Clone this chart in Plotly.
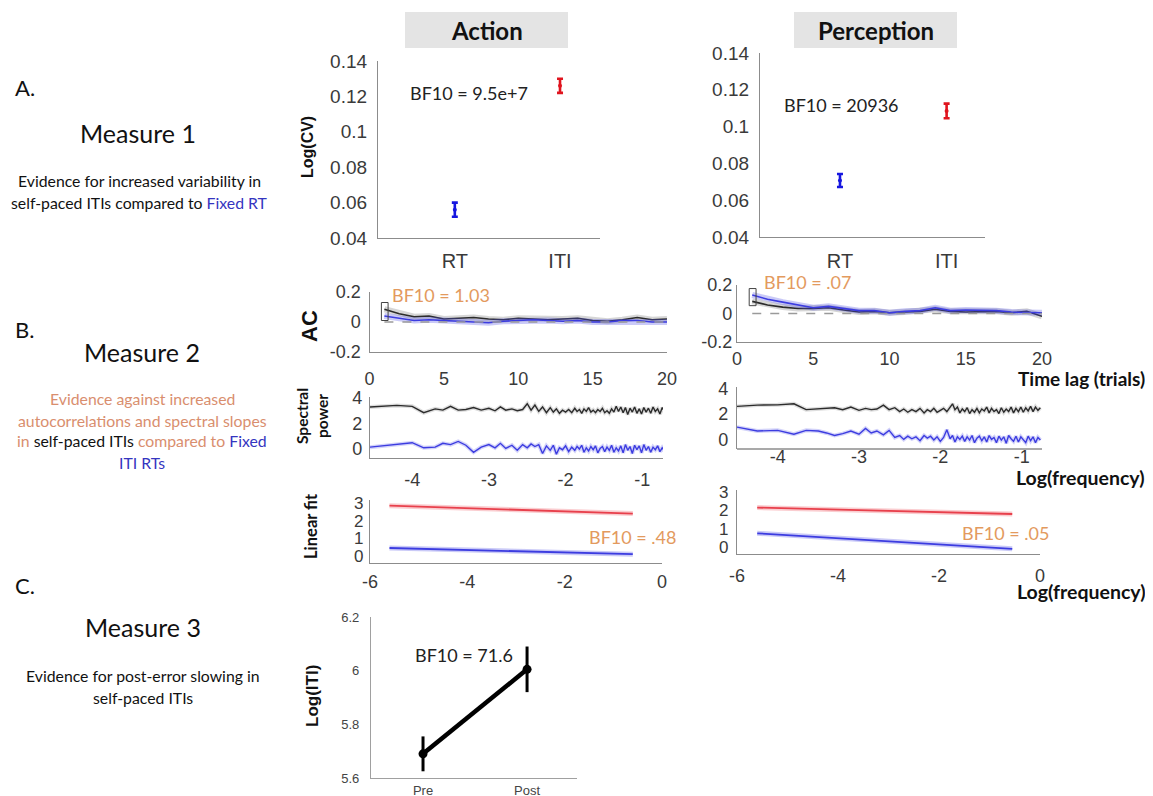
import plotly.graph_objects as go

# target picture size and the page offset (default body margin of the html page)
W, H = 1153, 796
OX, OY = 8, 8
FW, FH = W - OX, H - OY

# ---------------- data ----------------
groups = ["RT", "ITI"]
action_cv_mean = [0.056, 0.126]
action_cv_err = [0.004, 0.004]
perception_cv_mean = [0.0707, 0.1085]
perception_cv_err = [0.0035, 0.004]

lags = [1, 2, 3, 4, 5, 6, 7, 8, 9, 10, 11, 12, 13, 14, 15, 16, 17, 18, 19, 20]
action_ac_iti = [0.085, 0.055, 0.035, 0.04, 0.02, 0.025, 0.03, 0.02, 0.015, 0.025,
                 0.02, 0.015, 0.02, 0.025, 0.01, 0.005, 0.015, 0.03, 0.015, 0.02]
action_ac_rt = [0.04, 0.025, 0.01, 0.015, 0.01, 0.005, 0.005, -0.005, 0.005, 0.01,
                0.015, 0.01, 0.005, 0.01, 0.0, 0.0, 0.01, 0.01, 0.0, 0.0]
perception_ac_iti = [0.085, 0.06, 0.045, 0.035, 0.035, 0.04, 0.025, 0.01, 0.015, 0.005,
                     0.01, 0.015, 0.03, 0.015, 0.01, 0.015, 0.015, 0.005, 0.015, -0.02]
perception_ac_rt = [0.13, 0.1, 0.08, 0.06, 0.04, 0.05, 0.035, 0.02, 0.02, 0.005,
                    0.015, 0.02, 0.04, 0.02, 0.025, 0.025, 0.02, 0.01, 0.01, 0.005]

action_logfreq = [-4.55, -4.2, -4.0, -3.85, -3.7, -3.6, -3.5, -3.4, -3.3, -3.2, -3.1, -3.0,
                  -2.92, -2.85, -2.78, -2.7, -2.63, -2.56, -2.5, -2.45, -2.4, -2.35, -2.3, -2.25,
                  -2.2, -2.16, -2.12, -2.08, -2.04, -2.0, -1.96, -1.92, -1.88, -1.85, -1.82, -1.79,
                  -1.76, -1.73, -1.7, -1.67, -1.64, -1.61, -1.58, -1.55, -1.52, -1.49, -1.46, -1.43,
                  -1.4, -1.37, -1.34, -1.31, -1.28, -1.25, -1.22, -1.19, -1.16, -1.13, -1.1, -1.07,
                  -1.04, -1.01, -0.98, -0.95, -0.92, -0.89, -0.86, -0.83, -0.8, -0.77, -0.74, -0.71]
action_power_iti = [3.30, 3.42, 3.35, 2.85, 3.15, 3.05, 3.35, 3.05, 3.10, 3.25, 3.05, 3.20,
                    3.00, 3.30, 3.05, 3.15, 3.00, 3.10, 3.55, 3.05, 3.45, 2.95, 3.30, 2.85,
                    3.25, 2.90, 3.15, 2.80, 3.05, 2.90, 3.10, 2.85, 3.20, 2.95, 3.10, 2.80,
                    3.15, 2.95, 3.25, 2.90, 3.05, 2.85, 3.10, 2.95, 3.20, 2.85, 3.00, 2.80,
                    3.15, 2.90, 3.35, 2.95, 3.30, 2.85, 3.25, 2.70, 3.20, 2.90, 3.30, 2.80,
                    3.15, 2.75, 3.25, 2.90, 3.20, 2.80, 3.30, 2.95, 3.15, 2.75, 3.25, 2.95]
action_power_rt = [0.15, 0.40, 0.50, 0.10, 0.15, 0.45, 0.35, 0.60, 0.30, -0.25, 0.15, 0.35,
                   0.10, 0.45, 0.05, 0.30, -0.10, 0.35, 0.10, 0.40, 0.20, 0.35, -0.35, 0.25,
                   -0.10, 0.30, -0.40, 0.10, -0.05, 0.25, -0.20, 0.15, -0.10, 0.20, 0.00, 0.30,
                   -0.25, 0.10, -0.15, 0.20, -0.05, 0.25, -0.30, 0.05, 0.20, -0.20, 0.15, -0.10,
                   0.30, -0.25, 0.10, -0.15, 0.25, -0.30, 0.35, -0.10, 0.20, -0.35, 0.30, -0.05,
                   0.25, -0.30, 0.35, -0.10, 0.20, -0.25, 0.15, -0.05, 0.25, -0.20, 0.10, -0.15]

perception_logfreq = [-4.5, -4.25, -4.0, -3.8, -3.65, -3.5, -3.4, -3.3, -3.2, -3.1, -3.0,
                      -2.92, -2.85, -2.78, -2.7, -2.63, -2.56, -2.5, -2.45, -2.4, -2.35, -2.3,
                      -2.25, -2.2, -2.16, -2.12, -2.08, -2.04, -2.0, -1.96, -1.92, -1.88, -1.85,
                      -1.82, -1.79, -1.76, -1.73, -1.7, -1.67, -1.64, -1.61, -1.58, -1.55, -1.52,
                      -1.49, -1.46, -1.43, -1.4, -1.37, -1.34, -1.31, -1.28, -1.25, -1.22, -1.19,
                      -1.16, -1.13, -1.1, -1.07, -1.04, -1.01, -0.98, -0.95, -0.92, -0.89, -0.86,
                      -0.83, -0.8, -0.77]
perception_power_iti = [2.60, 2.70, 2.72, 2.80, 2.35, 2.40, 2.45, 2.50, 2.35, 2.55, 2.30,
                        2.45, 2.35, 2.40, 2.70, 2.35, 2.50, 2.20, 2.40, 2.15, 2.35, 2.20,
                        2.45, 2.10, 2.35, 2.20, 2.45, 2.15, 2.30, 2.45, 2.20, 2.50, 2.80,
                        2.35, 2.55, 2.10, 2.40, 2.20, 2.50, 2.05, 2.35, 2.15, 2.45, 2.10,
                        2.40, 2.25, 2.55, 2.10, 2.45, 2.20, 2.35, 2.05, 2.50, 2.15, 2.40,
                        2.20, 2.55, 2.10, 2.45, 2.20, 2.55, 2.15, 2.50, 2.25, 2.60, 2.20,
                        2.55, 2.30, 2.50]
perception_power_rt = [1.00, 0.70, 0.75, 0.45, 0.75, 0.70, 0.55, 0.35, 0.50, 0.70, 0.45,
                       0.90, 0.55, 0.70, 0.40, 0.75, 0.20, 0.35, 0.05, 0.30, 0.10, 0.25,
                       -0.05, 0.35, 0.15, 0.30, 0.00, 0.25, -0.10, 0.20, 0.80, 0.10, 0.35,
                       -0.15, 0.25, 0.05, 0.30, -0.10, 0.25, 0.00, 0.35, -0.20, 0.15, 0.30,
                       -0.05, 0.25, -0.15, 0.35, 0.05, 0.20, -0.20, 0.30, 0.00, 0.25, -0.25,
                       0.35, 0.10, -0.10, 0.30, -0.15, 0.25, 0.05, -0.20, 0.30, -0.05, 0.25,
                       -0.20, 0.20, 0.00]

action_fit_x = [-5.6, -0.6]
action_fit_iti = [2.85, 2.4]
action_fit_rt = [0.45, 0.1]
perception_fit_x = [-5.6, -0.55]
perception_fit_iti = [2.15, 1.8]
perception_fit_rt = [0.75, -0.1]

pe_conditions = ["Pre", "Post"]
pe_log_iti = [5.69, 6.005]
pe_err = [0.065, 0.085]

# ---------------- styles ----------------
ARIAL = "Liberation Sans, Arial, sans-serif"
CAL = "Lato, Open Sans, sans-serif"
TICK = "#3a3a3a"
AXL = "#8c8c8c"
BLUE_PT = "#1616e0"
RED_PT = "#e0141e"
BLUE_L = "#3c3ce0"
BLACK_L = "#2b2b2b"
RED_L = "#e8404c"
ORANGE_BF = "#E39A5E"
ORANGE_TXT = "#D98E6E"
BLUE_TXT = "#3535C0"


def PX(x):
    return (x - OX) / FW


def PY(y):
    return 1 - (y - OY) / FH


layout = dict(width=FW, height=FH, autosize=False,
              margin=dict(l=0, r=0, t=0, b=0, pad=0, autoexpand=False),
              paper_bgcolor="white", plot_bgcolor="rgba(0,0,0,0)", showlegend=False)
shapes = []


def axes(n, box, xrange, yrange, xt=None, yt=None, xfont=18, yfont=18,
         xstand=8, ystand=6, line=AXL, xcat=False, tickcolor=TICK, xlift=0):
    l, r, t, b = box
    s = "" if n == 1 else str(n)
    common = dict(showline=True, linecolor=line, linewidth=1.3, ticks="", automargin=False,
                  showgrid=False, zeroline=False, mirror=False, fixedrange=True)
    xa = dict(common, domain=[PX(l), PX(r)], range=xrange, anchor="y" + s,
              tickfont=dict(family=ARIAL, size=xfont, color=tickcolor),
              ticklabelstandoff=xstand)
    if xlift:
        # labels sit closer to the axis line than plotly's minimum gap allows
        xa.update(anchor="free", position=PY(b - xlift), showline=False)
        shapes.append(dict(type="line", xref="x%s domain" % s, yref="y%s domain" % s,
                           x0=0, x1=1, y0=0, y1=0, line=dict(color=line, width=1.3)))
    if xcat:
        xa["type"] = "category"
    else:
        xa["tickvals"] = xt[0]
        xa["ticktext"] = xt[1]
    ya = dict(common, domain=[PY(b), PY(t)], range=yrange, anchor="x" + s,
              tickvals=yt[0], ticktext=yt[1],
              tickfont=dict(family=ARIAL, size=yfont, color=tickcolor),
              ticklabelstandoff=ystand)
    layout["xaxis" + s] = xa
    layout["yaxis" + s] = ya
    return "x" + s, "y" + s


fig = go.Figure()

cv_ticks = ([0.04, 0.06, 0.08, 0.1, 0.12, 0.14], ["0.04", "0.06", "0.08", "0.1", "0.12", "0.14"])

# --- A: Measure 1 ---
for n, box, xr, means, errs, xs in [
    (1, (378, 600, 61, 238), [-0.73, 1.38], action_cv_mean, action_cv_err, 5),
    (2, (760, 985, 53, 237), [-0.75, 1.36], perception_cv_mean, perception_cv_err, 6),
]:
    xa, ya = axes(n, box, xr, [0.04, 0.14], yt=cv_ticks, xcat=True, xfont=20, yfont=19,
                  xstand=xs, ystand=6)
    for i, c in enumerate([BLUE_PT, RED_PT]):
        fig.add_trace(go.Scatter(x=[groups[i]], y=[means[i]], mode="markers",
                                 marker=dict(color=c, size=4),
                                 error_y=dict(type="data", array=[errs[i]], color=c,
                                              thickness=2.6, width=3),
                                 xaxis=xa, yaxis=ya))

# --- B: autocorrelation ---
ac_x = ([0, 5, 10, 15, 20], ["0", "5", "10", "15", "20"])
ac_y = ([-0.2, 0, 0.2], ["-0.2", "0", "0.2"])
for n, box, iti, rt, xs, ys_ in [
    (3, (369.5, 667, 292, 352), action_ac_iti, action_ac_rt, 10, 4),
    (4, (737, 1042, 285, 342), perception_ac_iti, perception_ac_rt, 0, 0),
]:
    xa, ya = axes(n, box, [0, 20], [-0.2, 0.2], xt=ac_x, yt=ac_y, xstand=xs, ystand=ys_)
    shapes.append(dict(type="line", xref=xa, yref=ya, x0=lags[0], x1=lags[-1], y0=0, y1=0,
                       line=dict(color="#9a9a9a", width=1.3, dash="dash")))
    for ys, c, halo in [(iti, BLACK_L, "rgba(90,90,90,0.25)"), (rt, BLUE_L, "rgba(80,80,230,0.3)")]:
        fig.add_trace(go.Scatter(x=lags, y=ys, mode="lines", line=dict(color=halo, width=6),
                                 xaxis=xa, yaxis=ya, hoverinfo="skip"))
        fig.add_trace(go.Scatter(x=lags, y=ys, mode="lines", line=dict(color=c, width=1.6),
                                 xaxis=xa, yaxis=ya))
    lo = min(iti[0], rt[0]) - 0.03
    hi = max(iti[0], rt[0]) + 0.045
    shapes.append(dict(type="rect", xref=xa, yref=ya, x0=lags[0] - 0.2, x1=lags[0] + 0.25,
                       y0=lo, y1=hi, line=dict(color="#444", width=1)))

# --- B: spectral power ---
sp_y = ([0, 2, 4], ["0", "2", "4"])
sp_x = ([-4, -3, -2, -1], ["-4", "-3", "-2", "-1"])
for n, box, xr, yr, fx, iti, rt, xs, ys_, lift in [
    (5, (370, 663, 397, 458), [-4.55, -0.73], [-0.7, 4.08], action_logfreq,
     action_power_iti, action_power_rt, 5, 3, 0),
    (6, (737, 1042, 387, 449), [-4.5, -0.75], [-0.69, 4.1], perception_logfreq,
     perception_power_iti, perception_power_rt, 0, 4, 5.5),
]:
    xa, ya = axes(n, box, xr, yr, xt=sp_x, yt=sp_y, xstand=xs, ystand=ys_, xlift=lift)
    for ys, c, halo in [(iti, BLACK_L, "rgba(90,90,90,0.2)"), (rt, BLUE_L, "rgba(80,80,230,0.25)")]:
        fig.add_trace(go.Scatter(x=fx, y=ys, mode="lines", line=dict(color=halo, width=4),
                                 xaxis=xa, yaxis=ya, hoverinfo="skip"))
        fig.add_trace(go.Scatter(x=fx, y=ys, mode="lines", line=dict(color=c, width=1.4),
                                 xaxis=xa, yaxis=ya))

# --- B: linear fit ---
lf_y = ([0, 1, 2, 3], ["0", "1", "2", "3"])
lf_x = ([-6, -4, -2, 0], ["-6", "-4", "-2", "0"])
for n, box, yr, fx, iti, rt, xs, ys_ in [
    (7, (370, 662, 500, 563), [-0.4, 3.17], action_fit_x, action_fit_iti, action_fit_rt, 2, 2),
    (8, (737, 1040, 490, 554), [-0.38, 3.11], perception_fit_x, perception_fit_iti,
     perception_fit_rt, 5, 4),
]:
    xa, ya = axes(n, box, [-6, 0], yr, xt=lf_x, yt=lf_y, xstand=xs, ystand=ys_, yfont=17)
    for ys, c, halo in [(iti, RED_L, "rgba(240,90,100,0.3)"), (rt, BLUE_L, "rgba(80,80,230,0.3)")]:
        fig.add_trace(go.Scatter(x=fx, y=ys, mode="lines", line=dict(color=halo, width=5),
                                 xaxis=xa, yaxis=ya, hoverinfo="skip"))
        fig.add_trace(go.Scatter(x=fx, y=ys, mode="lines", line=dict(color=c, width=1.8),
                                 xaxis=xa, yaxis=ya))

# --- C: post-error slowing ---
xa, ya = axes(9, (371, 577, 617, 778), [-0.5, 1.48], [5.6, 6.2],
              yt=([5.6, 5.8, 6, 6.2], ["5.6", "5.8", "6", "6.2"]), xcat=True,
              xfont=13, yfont=13, xstand=0, ystand=8, line="#a0a0a0", tickcolor="#444")
fig.add_trace(go.Scatter(x=pe_conditions, y=pe_log_iti, mode="lines+markers",
                         line=dict(color="black", width=4.5),
                         marker=dict(color="black", size=9),
                         error_y=dict(type="data", array=pe_err, color="black",
                                      thickness=3, width=0),
                         xaxis=xa, yaxis=ya))

# ---------------- header boxes ----------------
for l, r in [(405, 568), (794, 957)]:
    shapes.append(dict(type="rect", xref="paper", yref="paper", x0=PX(l), x1=PX(r),
                       y0=PY(48), y1=PY(12), fillcolor="#e4e4e4",
                       line=dict(width=0), layer="below"))

ann = []


def note(text, x, y, size, color="#111111", family=CAL, xanchor="center", angle=0):
    ann.append(dict(text=text, x=PX(x), y=PY(y), xref="paper", yref="paper",
                    showarrow=False, xanchor=xanchor, yanchor="middle", textangle=angle,
                    font=dict(family=family, size=size, color=color)))


note("<b>Action</b>", 487, 31, 24)
note("<b>Perception</b>", 876, 31, 24)

# left column text
DS = 15.8
note("A.", 13, 88, 22, xanchor="left")
note("Measure 1", 138, 133, 25)
note("Evidence for increased variability in", 139, 180, DS)
note("self-paced ITIs compared to <span style='color:%s'>Fixed RT</span>" % BLUE_TXT, 139, 202, DS)
note("B.", 13, 330, 22, xanchor="left")
note("Measure 2", 142, 352, 25)
note("Evidence against increased", 142, 398, DS, color=ORANGE_TXT)
note("autocorrelations and spectral slopes", 142, 420, DS, color=ORANGE_TXT)
note("in <span style='color:#111111'>self-paced ITIs</span> compared to "
     "<span style='color:%s'>Fixed</span>" % BLUE_TXT, 142, 440, DS, color=ORANGE_TXT)
note("ITI RTs", 142, 462, DS, color=BLUE_TXT)
note("C.", 13, 585, 22, xanchor="left")
note("Measure 3", 143, 627, 25)
note("Evidence for post-error slowing in", 143, 675, DS)
note("self-paced ITIs", 143, 697, DS)

# in-plot annotations
note("BF10 = 9.5e+7", 408, 93, 18, color="#222", xanchor="left")
note("BF10 = 20936", 782, 105, 18, color="#222", xanchor="left")
note("BF10 = 1.03", 390, 295, 18, color=ORANGE_BF, xanchor="left")
note("BF10 = .07", 762, 282, 18, color=ORANGE_BF, xanchor="left")
note("BF10 = .48", 587, 537, 18, color=ORANGE_BF, xanchor="left")
note("BF10 = .05", 960, 533, 18, color=ORANGE_BF, xanchor="left")
note("BF10 = 71.6", 413, 655, 18, color="#222", xanchor="left")

note("<b>Time lag (trials)</b>", 1081, 378, 19)
note("<b>Log(frequency)</b>", 1080, 477, 19.5)
note("<b>Log(frequency)</b>", 1081, 591, 19.5)

# y-axis titles
note("<b>Log(CV)</b>", 308, 147, 16, family=ARIAL, angle=-90)
note("<b>AC</b>", 309, 326, 22, family=ARIAL, angle=-90)
note("<b>Spectral<br>power</b>", 312, 416, 15.5, angle=-90)
note("<b>Linear fit</b>", 311, 526, 16.5, angle=-90)
note("<b>Log(ITI)</b>", 312, 696, 17, family=ARIAL, angle=-90)

layout["annotations"] = ann
layout["shapes"] = shapes
fig.update_layout(**layout)
fig.write_html("out.html")
